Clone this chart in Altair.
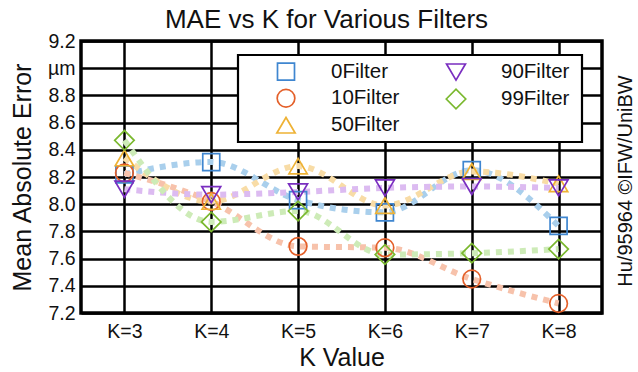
import altair as alt
import pandas as pd

# ---- data ----
k_labels = ["K=3", "K=4", "K=5", "K=6", "K=7", "K=8"]
filters = ["0Filter", "10Filter", "50Filter", "90Filter", "99Filter"]
mae_0 = [8.22, 8.31, 8.03, 7.94, 8.25, 7.84]
mae_10 = [8.23, 8.02, 7.69, 7.68, 7.45, 7.27]
mae_50 = [8.34, 8.02, 8.28, 7.99, 8.24, 8.15]
mae_90 = [8.11, 8.07, 8.09, 8.12, 8.13, 8.12]
mae_99 = [8.47, 7.87, 7.95, 7.63, 7.64, 7.67]
y_ticks = [7.2, 7.4, 7.6, 7.8, 8.0, 8.2, 8.4, 8.6, 8.8, 9.0, 9.2]

series = [mae_0, mae_10, mae_50, mae_90, mae_99]
rows = []
for name, vals in zip(filters, series):
    for k, v in zip(k_labels, vals):
        rows.append({"K": k, "MAE": v, "Filter": name})
df = pd.DataFrame(rows)

marker_colors = ["#3f86d0", "#e4602a", "#eeb235", "#7a2ec0", "#7ab82e"]
line_colors = ["#a9cfec", "#f7c2ab", "#f8dca6", "#dcbbf1", "#cdebb7"]
shapes = ["square", "circle", "M0,-0.85L1,0.85L-1,0.85Z", "M0,0.85L1,-0.85L-1,-0.85Z", "diamond"]
sizes = [289, 380, 484, 484, 420]

FONT = "Liberation Sans"

x_enc = alt.X("K:N", sort=k_labels,
              scale=alt.Scale(type="point", padding=0.5),
              axis=alt.Axis(title="K Value", labelAngle=0))
y_enc = alt.Y("MAE:Q",
              scale=alt.Scale(domain=[7.2, 9.2], nice=False, zero=False),
              axis=alt.Axis(title="Mean Absolute Error", values=y_ticks,
                            labelExpr="abs(datum.value - 9) < 0.001 ? 'µm' : format(datum.value, '.1f')"))

line_layers = []
for name, lc in zip(filters, line_colors):
    line_layers.append(
        alt.Chart(df).transform_filter(alt.datum.Filter == name).mark_line(
            interpolate="monotone", strokeWidth=6, strokeDash=[6, 6], strokeCap="butt", color=lc
        ).encode(x=x_enc, y=y_enc)
    )

legend_box = alt.Chart(pd.DataFrame({"a": [0]})).mark_rect(
    fill="white", stroke="black", strokeWidth=2.2
).encode(x=alt.value(157), x2=alt.value(501), y=alt.value(14), y2=alt.value(101))

points = alt.Chart(df).mark_point(filled=False, strokeWidth=1.7, opacity=1).encode(
    x=x_enc, y=y_enc,
    color=alt.Color("Filter:N", scale=alt.Scale(domain=filters, range=marker_colors),
                    legend=alt.Legend(title=None, orient="none", legendX=194, legendY=20,
                                      columns=2, columnPadding=42, rowPadding=1,
                                      labelOffset=34, padding=0, direction="vertical",
                                      labelFontSize=20.5, labelFont=FONT, labelColor="#111111",
                                      symbolStrokeWidth=1.7)),
    shape=alt.Shape("Filter:N", scale=alt.Scale(domain=filters, range=shapes)),
    size=alt.Size("Filter:N", scale=alt.Scale(domain=filters, range=sizes)),
)

side_text = alt.Chart(pd.DataFrame({"a": [0]})).mark_text(
    text="Hu/95964 ©IFW/UniBW", angle=270, fontSize=20, font=FONT, color="#111111",
    align="center", baseline="middle"
).encode(x=alt.value(545), y=alt.value(140))

chart = alt.layer(*line_layers, legend_box, points, side_text).properties(
    width=521, height=272,
    title=alt.TitleParams("MAE vs K for Various Filters", fontSize=26, font=FONT,
                          fontWeight="normal", color="#111111", anchor="middle",
                          dx=-15, dy=12, offset=10),
    autosize=alt.AutoSizeParams(type="none"),
    padding={"left": 81, "top": 41, "right": 36, "bottom": 59},
).configure_view(
    stroke="black", strokeWidth=3.5
).configure_axis(
    labelFont=FONT, labelFontSize=19.5, labelColor="#111111",
    titleFont=FONT, titleFontSize=25, titleFontWeight="normal", titleColor="#111111",
    grid=True, gridColor="black", gridWidth=2.5, gridOpacity=1,
    ticks=False, domain=False, labelPadding=6,
).configure_axisX(
    labelPadding=9, titlePadding=5
).configure_axisY(
    titlePadding=12
)

chart.save("out.html", embed_options={"renderer": "svg", "actions": False})
